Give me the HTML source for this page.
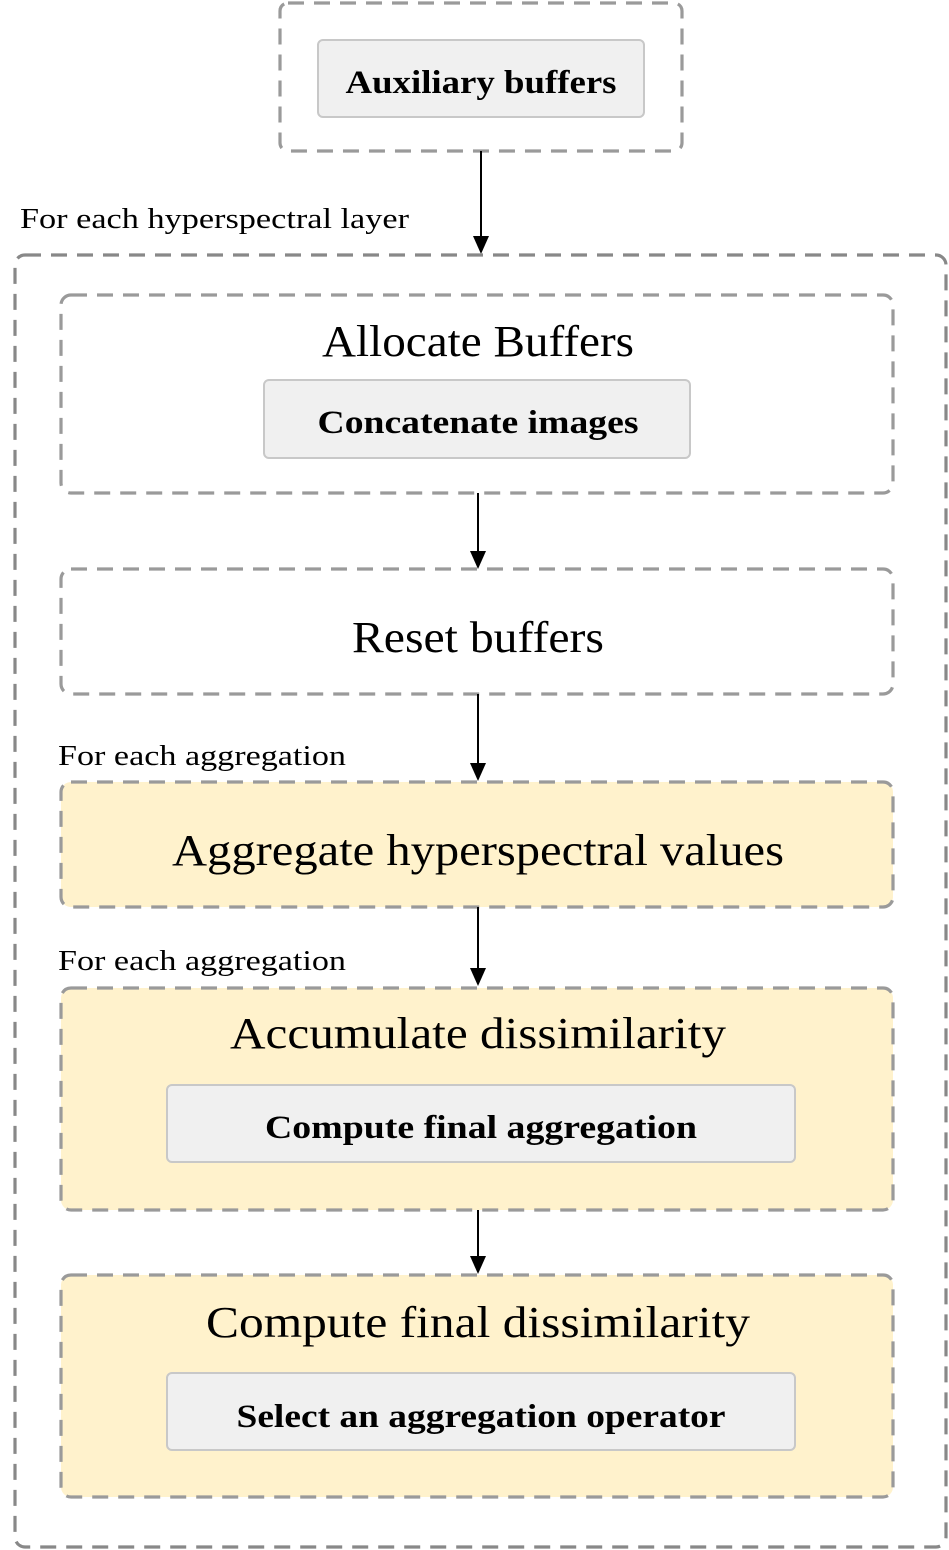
<!DOCTYPE html>
<html><head><meta charset="utf-8"><style>
html,body{margin:0;padding:0;background:#fff;}
svg{display:block;}
text{font-family:"Liberation Serif",serif;fill:#000;}
.d{fill:none;stroke:#9a9a9a;stroke-width:3.2;stroke-dasharray:16 10;}
.o{fill:none;stroke:#888;stroke-width:3.2;stroke-dasharray:16 10;}
.y{fill:#fff2cc;stroke:#9a9a9a;stroke-width:3.2;stroke-dasharray:16 10;}
.g{fill:#f0f0f0;stroke:#c8c8c8;stroke-width:2;}
.b{font-weight:bold;font-size:33px;}
.t{font-size:44px;}
.l{font-size:29px;}
.a{stroke:#000;stroke-width:2;}
</style></head><body>
<svg width="949" height="1550" viewBox="0 0 949 1550" xmlns="http://www.w3.org/2000/svg">

<rect class="d" x="280" y="3" width="402" height="148" rx="8"/>
<rect class="g" x="318" y="40" width="326" height="77" rx="5"/>
<text class="b" x="481" y="93" text-anchor="middle" textLength="271" lengthAdjust="spacingAndGlyphs">Auxiliary buffers</text>

<line class="a" x1="481" y1="151" x2="481" y2="238"/>
<path d="M473,236 L489,236 L481,254 z"/>
<text class="l" x="20" y="228" textLength="389" lengthAdjust="spacingAndGlyphs">For each hyperspectral layer</text>

<rect class="o" x="15" y="255" width="931" height="1292" rx="10"/>

<rect class="d" x="61" y="295" width="832" height="198" rx="10"/>
<text class="t" x="478" y="356" text-anchor="middle" textLength="312" lengthAdjust="spacingAndGlyphs">Allocate Buffers</text>
<rect class="g" x="264" y="380" width="426" height="78" rx="5"/>
<text class="b" x="478" y="433" text-anchor="middle" textLength="321" lengthAdjust="spacingAndGlyphs">Concatenate images</text>

<line class="a" x1="478" y1="493" x2="478" y2="553"/>
<path d="M470,551 L486,551 L478,569 z"/>

<rect class="d" x="61" y="569" width="832" height="125" rx="10"/>
<text class="t" x="478" y="652" text-anchor="middle" textLength="252" lengthAdjust="spacingAndGlyphs">Reset buffers</text>

<line class="a" x1="478" y1="694" x2="478" y2="765"/>
<path d="M470,763 L486,763 L478,781 z"/>
<text class="l" x="58" y="765" textLength="288" lengthAdjust="spacingAndGlyphs">For each aggregation</text>

<rect class="y" x="61" y="782" width="832" height="125" rx="10"/>
<text class="t" x="478" y="865" text-anchor="middle" textLength="612" lengthAdjust="spacingAndGlyphs">Aggregate hyperspectral values</text>

<line class="a" x1="478" y1="907" x2="478" y2="970"/>
<path d="M470,968 L486,968 L478,986 z"/>
<text class="l" x="58" y="970" textLength="288" lengthAdjust="spacingAndGlyphs">For each aggregation</text>

<rect class="y" x="61" y="988" width="832" height="222" rx="10"/>
<text class="t" x="478" y="1048" text-anchor="middle" textLength="496" lengthAdjust="spacingAndGlyphs">Accumulate dissimilarity</text>
<rect class="g" x="167" y="1085" width="628" height="77" rx="5"/>
<text class="b" x="481" y="1138" text-anchor="middle" textLength="432" lengthAdjust="spacingAndGlyphs">Compute final aggregation</text>

<line class="a" x1="478" y1="1210" x2="478" y2="1258"/>
<path d="M470,1256 L486,1256 L478,1274 z"/>

<rect class="y" x="61" y="1275" width="832" height="222" rx="10"/>
<text class="t" x="478" y="1337" text-anchor="middle" textLength="544" lengthAdjust="spacingAndGlyphs">Compute final dissimilarity</text>
<rect class="g" x="167" y="1373" width="628" height="77" rx="5"/>
<text class="b" x="481" y="1427" text-anchor="middle" textLength="489" lengthAdjust="spacingAndGlyphs">Select an aggregation operator</text>
</svg>
</body></html>
